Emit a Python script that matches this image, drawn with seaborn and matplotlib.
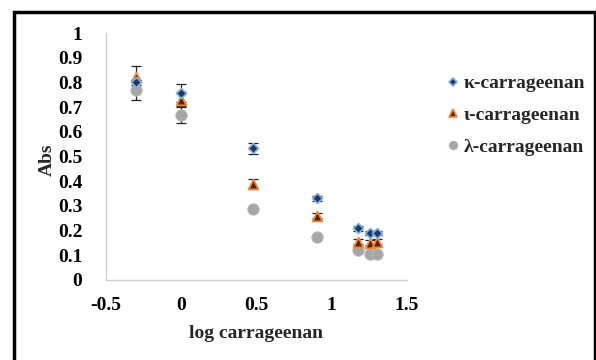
import matplotlib
matplotlib.use("Agg")
import matplotlib.pyplot as plt
import seaborn as sns
import pandas as pd
import numpy as np
from matplotlib.patches import Rectangle
from matplotlib.lines import Line2D

sns.set_theme(style="white")
plt.rcParams['font.family'] = ['Liberation Serif', 'DejaVu Serif']
plt.rcParams['font.weight'] = 'bold'

log_conc = [-0.301, 0.0, 0.477, 0.903, 1.176, 1.255, 1.301]
series = ["κ-carrageenan", "ι-carrageenan", "λ-carrageenan"]
kappa = [0.80, 0.757, 0.534, 0.33, 0.21, 0.19, 0.19]
iota = [0.82, 0.73, 0.39, 0.26, 0.155, 0.15, 0.155]
lamb = [0.77, 0.67, 0.287, 0.175, 0.12, 0.105, 0.105]
kappa_err = [0.01, 0.035, 0.022, 0.012, 0.01, 0.008, 0.008]
iota_err = [0.047, 0.03, 0.02, 0.01, 0.01, 0.01, 0.01]
lamb_err = [0.04, 0.033, 0.006, 0.006, 0.006, 0.006, 0.006]

rows = []
for name, vals, errs in zip(series, [kappa, iota, lamb], [kappa_err, iota_err, lamb_err]):
    for x, y, e in zip(log_conc, vals, errs):
        rows.append({"x": x, "Abs": y, "err": e, "series": name})
df = pd.DataFrame(rows)

fig = plt.figure(figsize=(5.96, 3.6), dpi=100)
ax = fig.add_axes([106/596, 1-280/360, (407-106)/596, (280-33)/360])

styles = {
    "κ-carrageenan": dict(marker="D", s=26, color="#1f3864", edgecolor="#7fb0e0", linewidth=1.2),
    "ι-carrageenan": dict(marker="^", s=50, color="#5a2308", edgecolor="#f0883a", linewidth=1.3),
    "λ-carrageenan": dict(marker="o", s=66, color="#a6a6a6", edgecolor="#b8b8b8", linewidth=0.8),
}

order = ["λ-carrageenan", "ι-carrageenan", "κ-carrageenan"]
for name in order:
    sub = df[df.series == name]
    ax.errorbar(sub.x, sub.Abs, yerr=sub.err, fmt="none", ecolor="#222222",
                elinewidth=0.9, capsize=3.5, capthick=0.9, zorder=2)
for name in order:
    sub = df[df.series == name]
    sns.scatterplot(data=sub, x="x", y="Abs", ax=ax, zorder=3, legend=False, **styles[name])

ax.set_xlim(-0.5, 1.5)
ax.set_ylim(0, 1)
ax.set_xticks([-0.5, 0, 0.5, 1, 1.5])
ax.set_xticklabels(["-0.5", "0", "0.5", "1", "1.5"])
ax.set_yticks(np.arange(0, 1.01, 0.1))
ax.set_yticklabels(["0", "0.1", "0.2", "0.3", "0.4", "0.5", "0.6", "0.7", "0.8", "0.9", "1"])
ax.tick_params(axis="both", length=0, labelsize=14, colors="black")
ax.tick_params(axis="y", pad=17)
ax.tick_params(axis="x", pad=12)
for lab in ax.get_xticklabels() + ax.get_yticklabels():
    lab.set_fontweight("bold")
for s in ["top", "right"]:
    ax.spines[s].set_visible(False)
for s in ["left", "bottom"]:
    ax.spines[s].set_color("#d0d0d0")
    ax.spines[s].set_linewidth(1.0)
ax.set_xlabel("")
ax.set_ylabel("")
fig.text(256/596, 1-333/360, "log carrageenan", ha="center", va="center",
         fontsize=14, fontweight="bold")
fig.text(47/596, 1-160/360, "Abs", ha="center", va="center", rotation=90,
         fontsize=14, fontweight="bold")

handles = []
for name in series:
    st = styles[name]
    handles.append(Line2D([], [], linestyle="none", marker=st["marker"],
                          markerfacecolor=st["color"], markeredgecolor=st["edgecolor"],
                          markersize=np.sqrt(st["s"]) * 0.75, markeredgewidth=st["linewidth"]))
leg = fig.legend(handles, series, loc="upper left", bbox_to_anchor=(437/596, 1-65/360),
                 frameon=False, prop={"size": 14, "weight": "bold"}, handlelength=0.6,
                 handletextpad=0.25, labelspacing=0.72, borderpad=0)

fig.patches.append(Rectangle((14/596, -0.1), (595-14)/596, 1.1 - 12/360,
                             transform=fig.transFigure, fill=False,
                             edgecolor="black", linewidth=2.5, clip_on=False))

fig.savefig("out.png", dpi=100)
